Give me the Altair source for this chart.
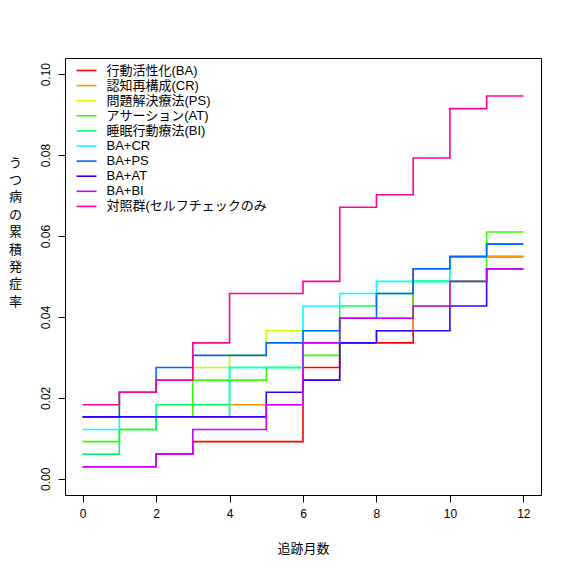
import altair as alt
import pandas as pd

months = [0, 1, 2, 3, 4, 5, 6, 7, 8, 9, 10, 11, 12]

series_names = [
    "行動活性化(BA)", "認知再構成(CR)", "問題解決療法(PS)", "アサーション(AT)",
    "睡眠行動療法(BI)", "BA+CR", "BA+PS", "BA+AT", "BA+BI", "対照群(セルフチェックのみ",
]
series_colors = [
    "#FF0000", "#FF9900", "#CCFF00", "#33FF00", "#00FF66",
    "#00FFFF", "#0066FF", "#3300FF", "#CC00FF", "#FF0099",
]

ba    = [0.0030, 0.0030, 0.0061, 0.0092, 0.0092, 0.0092, 0.0275, 0.0336, 0.0336, 0.0519, 0.0549, 0.0549, 0.0549]
cr    = [0.0153, 0.0153, 0.0153, 0.0153, 0.0183, 0.0183, 0.0244, 0.0336, 0.0366, 0.0427, 0.0549, 0.0549, 0.0549]
ps    = [0.0153, 0.0214, 0.0244, 0.0275, 0.0305, 0.0366, 0.0366, 0.0397, 0.0397, 0.0427, 0.0549, 0.0580, 0.0580]
at    = [0.0092, 0.0122, 0.0153, 0.0244, 0.0244, 0.0275, 0.0305, 0.0397, 0.0397, 0.0488, 0.0488, 0.0610, 0.0610]
bi    = [0.0061, 0.0122, 0.0183, 0.0183, 0.0275, 0.0275, 0.0336, 0.0427, 0.0458, 0.0488, 0.0488, 0.0519, 0.0519]
ba_cr = [0.0122, 0.0153, 0.0153, 0.0153, 0.0275, 0.0275, 0.0427, 0.0458, 0.0488, 0.0488, 0.0549, 0.0580, 0.0580]
ba_ps = [0.0153, 0.0214, 0.0275, 0.0305, 0.0305, 0.0336, 0.0366, 0.0397, 0.0458, 0.0519, 0.0549, 0.0580, 0.0580]
ba_at = [0.0153, 0.0153, 0.0153, 0.0153, 0.0153, 0.0214, 0.0244, 0.0336, 0.0366, 0.0366, 0.0427, 0.0519, 0.0519]
ba_bi = [0.0030, 0.0030, 0.0061, 0.0122, 0.0122, 0.0183, 0.0336, 0.0397, 0.0397, 0.0427, 0.0488, 0.0519, 0.0519]
ctrl  = [0.0183, 0.0214, 0.0244, 0.0336, 0.0458, 0.0458, 0.0488, 0.0671, 0.0702, 0.0793, 0.0915, 0.0946, 0.0946]

x_ticks = [0, 2, 4, 6, 8, 10, 12]
y_ticks = [0.00, 0.02, 0.04, 0.06, 0.08, 0.10]

all_series = [ba, cr, ps, at, bi, ba_cr, ba_ps, ba_at, ba_bi, ctrl]
rows = []
for name, vals in zip(series_names, all_series):
    for m, v in zip(months, vals):
        rows.append({"month": m, "rate": v, "group": name})
df = pd.DataFrame(rows)

FONT = "'Liberation Sans', 'Noto Sans CJK JP', sans-serif"

chart = alt.Chart(df).mark_line(
    interpolate="step-after", strokeWidth=1.6
).encode(
    x=alt.X(
        "month:Q",
        scale=alt.Scale(domain=[-0.48, 12.48], nice=False, zero=False),
        axis=alt.Axis(
            values=x_ticks, format="d", grid=False, domain=False,
            tickSize=7, tickColor="black", tickWidth=1,
            labelFontSize=12, labelColor="black", labelPadding=6, labelFont=FONT,
            title="追跡月数", titleFont=FONT, titleFontSize=13, titleFontWeight="normal",
            titleColor="black", titleY=53, titleBaseline="middle",
        ),
    ),
    y=alt.Y(
        "rate:Q",
        scale=alt.Scale(domain=[-0.004, 0.104], nice=False, zero=False),
        axis=alt.Axis(
            values=y_ticks, format=".2f", grid=False, domain=False,
            tickSize=7, tickColor="black", tickWidth=1,
            labelFontSize=12, labelColor="black", labelPadding=6, labelFont=FONT,
            labelAngle=270, labelAlign="center", labelBaseline="bottom",
            title=list("うつ病の累積発症率"), titleFont=FONT, titleFontSize=13,
            titleFontWeight="normal", titleColor="black", titleAngle=0,
            titleX=-50, titleY=98, titleAlign="center", titleBaseline="top",
            titleLineHeight=17.4,
        ),
    ),
    color=alt.Color(
        "group:N",
        scale=alt.Scale(domain=series_names, range=series_colors),
        sort=series_names,
        legend=alt.Legend(
            title=None, orient="none", legendX=15, legendY=6,
            symbolType="M-2,0L2,0", symbolSize=100, symbolStrokeWidth=1.6,
            labelFont=FONT, labelFontSize=13, labelColor="black",
            labelOffset=13.5, labelLimit=0, rowPadding=1.1, padding=0,
            symbolOffset=0,
        ),
    ),
    order=alt.Order("month:Q"),
).properties(
    width=476, height=437,
    autosize=alt.AutoSizeParams(type="none"),
    padding={"left": 57, "top": 50, "right": 15, "bottom": 71},
).configure(
    background="white"
).configure_view(
    stroke="black", strokeWidth=1
)

chart.save("out.html", embed_options={"renderer": "svg", "actions": False})
